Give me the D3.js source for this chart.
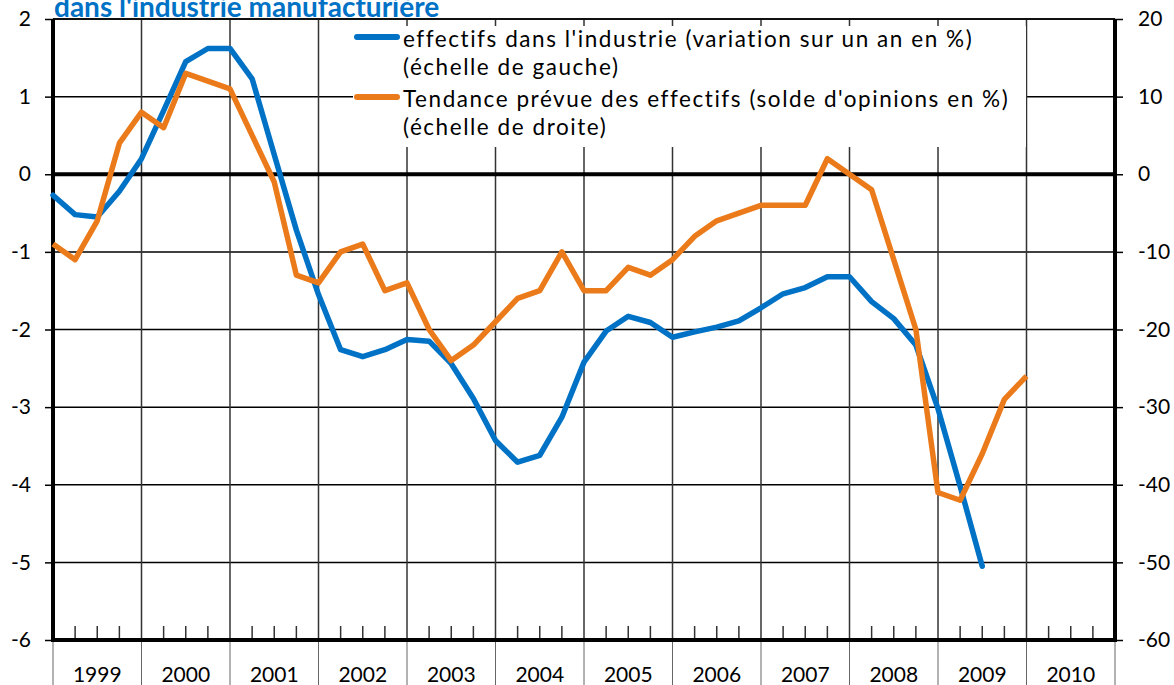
<!DOCTYPE html>
<html>
<head>
<meta charset="utf-8">
<script src="https://cdn.jsdelivr.net/npm/d3@7"></script>
<style>
  body { margin: 0; background: #fff; }
  svg { display: block; font-family: Lato, "Noto Sans", sans-serif; }
</style>
</head>
<body>
<div id="chart"></div>
<script>
// quarterly data, first point = start of 1999
const years = [1999, 2000, 2001, 2002, 2003, 2004, 2005, 2006, 2007, 2008, 2009, 2010];
const leftTicks = [-6, -5, -4, -3, -2, -1, 0, 1, 2];
const rightTicks = [-60, -50, -40, -30, -20, -10, 0, 10, 20];

// effectifs dans l'industrie (variation sur un an en %), left scale
const effectifs = [-0.27, -0.52, -0.55, -0.22, 0.2, 0.82, 1.45, 1.62, 1.62, 1.23,
  0.25, -0.72, -1.55, -2.26, -2.35, -2.26, -2.13, -2.15, -2.44, -2.89,
  -3.43, -3.71, -3.62, -3.13, -2.42, -2.02, -1.83, -1.91, -2.1, -2.03,
  -1.97, -1.89, -1.72, -1.54, -1.46, -1.32, -1.32, -1.64, -1.86, -2.2,
  -3.02, -4.02, -5.05];

// tendance prévue des effectifs (solde d'opinions en %), right scale
const tendance = [-9, -11, -6, 4, 8, 6, 13, 12, 11, 5,
  -1, -13, -14, -10, -9, -15, -14, -20, -24, -22,
  -19, -16, -15, -10, -15, -15, -12, -13, -11, -8,
  -6, -5, -4, -4, -4, 2, 0, -2, -11, -20,
  -41, -42, -36, -29, -26];

const legendItems = [
  { color: '#0072C6', lines: ["effectifs dans l'industrie (variation sur un an en %)", '(échelle de gauche)'] },
  { color: '#EB7A1A', lines: ["Tendance prévue des effectifs (solde d'opinions en %)", '(échelle de droite)'] }
];

const W = 1174, H = 685;
const mLeft = 53, mRight = 1115, mTop = 19, mBottom = 640;

const svg = d3.select('#chart').append('svg')
  .attr('width', W)
  .attr('height', H);

const x = d3.scaleLinear().domain([0, years.length * 4]).range([mLeft, mRight]);
const yL = d3.scaleLinear().domain([-6, 2]).range([mBottom, mTop]);
const yR = d3.scaleLinear().domain([-60, 20]).range([mBottom, mTop]);

const gGrid = svg.append('g');
const gAxis = svg.append('g');
const gLegend = svg.append('g');
const gLines = svg.append('g');

// title (its top is cut off in the original too)
svg.append('text')
  .attr('x', 54)
  .attr('y', 17)
  .attr('fill', '#0072C6')
  .attr('font-size', 28)
  .attr('font-weight', 'bold')
  .text("dans l'industrie manufacturière");

// horizontal grid
leftTicks.forEach((t) => {
  if (t === 0 || t === -6) return;
  gGrid.append('line')
    .attr('x1', mLeft).attr('x2', mRight)
    .attr('y1', yL(t)).attr('y2', yL(t))
    .attr('stroke', '#000')
    .attr('stroke-width', 1.5);
});

// vertical year lines, quarter ticks
years.forEach((yr, i) => {
  if (i > 0) {
    gGrid.append('line')
      .attr('x1', x(i * 4)).attr('x2', x(i * 4))
      .attr('y1', mTop).attr('y2', mBottom)
      .attr('stroke', '#333')
      .attr('stroke-width', 1.5);
  }
  [1, 2, 3].forEach((q) => {
    gGrid.append('line')
      .attr('x1', x(i * 4 + q)).attr('x2', x(i * 4 + q))
      .attr('y1', mBottom - 14).attr('y2', mBottom)
      .attr('stroke', '#333')
      .attr('stroke-width', 1.5);
  });
  gAxis.append('text')
    .attr('x', x(i * 4 + 2))
    .attr('y', 682)
    .attr('text-anchor', 'middle')
    .attr('font-size', 21)
    .text(yr);
});
d3.range(years.length + 1).forEach((i) => {
  gGrid.append('line')
    .attr('x1', x(i * 4)).attr('x2', x(i * 4))
    .attr('y1', mBottom).attr('y2', H)
    .attr('stroke', '#666')
    .attr('stroke-width', 1);
});

// left / right axes
gAxis.append('g')
  .attr('transform', `translate(${mLeft},0)`)
  .call(d3.axisLeft(yL).tickValues(leftTicks).tickSize(8).tickPadding(14).tickFormat((d) => String(d)))
  .call((g) => g.select('.domain').remove());
gAxis.append('g')
  .attr('transform', `translate(${mRight},0)`)
  .call(d3.axisRight(yR).tickValues(rightTicks).tickSize(8).tickPadding(15).tickFormat((d) => String(d)))
  .call((g) => g.select('.domain').remove());
gAxis.selectAll('.tick text')
  .attr('font-family', 'Lato, sans-serif')
  .attr('font-size', 21)
  .attr('fill', '#000');
gAxis.selectAll('.tick line')
  .attr('stroke', '#000')
  .attr('stroke-width', 1.5);

// frame
gAxis.append('line')
  .attr('x1', mLeft).attr('x2', mRight)
  .attr('y1', yL(2)).attr('y2', yL(2))
  .attr('stroke', '#000').attr('stroke-width', 1.5);
gAxis.append('line')
  .attr('x1', mLeft).attr('x2', mRight)
  .attr('y1', yL(0)).attr('y2', yL(0))
  .attr('stroke', '#000').attr('stroke-width', 4);
gAxis.append('line')
  .attr('x1', mLeft - 2).attr('x2', mRight + 2)
  .attr('y1', yL(-6)).attr('y2', yL(-6))
  .attr('stroke', '#000').attr('stroke-width', 4);
[mLeft, mRight].forEach((xx) => {
  gAxis.append('line')
    .attr('x1', xx).attr('x2', xx)
    .attr('y1', mTop).attr('y2', mBottom + 2)
    .attr('stroke', '#000').attr('stroke-width', 4);
});

// legend
gLegend.append('rect')
  .attr('x', 353).attr('y', 26)
  .attr('width', 673).attr('height', 121)
  .attr('fill', '#fff');
legendItems.forEach((item, i) => {
  const y0 = 37 + i * 60;
  gLegend.append('line')
    .attr('x1', 357).attr('x2', 397)
    .attr('y1', y0).attr('y2', y0)
    .attr('stroke', item.color)
    .attr('stroke-width', 6)
    .attr('stroke-linecap', 'round');
  const txt = gLegend.append('text')
    .attr('y', y0 + 10)
    .attr('font-size', 22.5)
    .attr('letter-spacing', 1.55)
    .attr('fill', '#000');
  item.lines.forEach((t, j) => {
    txt.append('tspan')
      .attr('x', 403)
      .attr('dy', j === 0 ? 0 : 28)
      .text(t);
  });
});

// series
const lineL = d3.line().x((d, i) => x(i)).y((d) => yL(d));
const lineR = d3.line().x((d, i) => x(i)).y((d) => yR(d));

gLines.append('path')
  .attr('d', lineL(effectifs))
  .attr('fill', 'none')
  .attr('stroke', '#0072C6')
  .attr('stroke-width', 5.5)
  .attr('stroke-linejoin', 'round')
  .attr('stroke-linecap', 'round');

gLines.append('path')
  .attr('d', lineR(tendance))
  .attr('fill', 'none')
  .attr('stroke', '#EB7A1A')
  .attr('stroke-width', 5.5)
  .attr('stroke-linejoin', 'round')
  .attr('stroke-linecap', 'butt');
</script>
</body>
</html>
